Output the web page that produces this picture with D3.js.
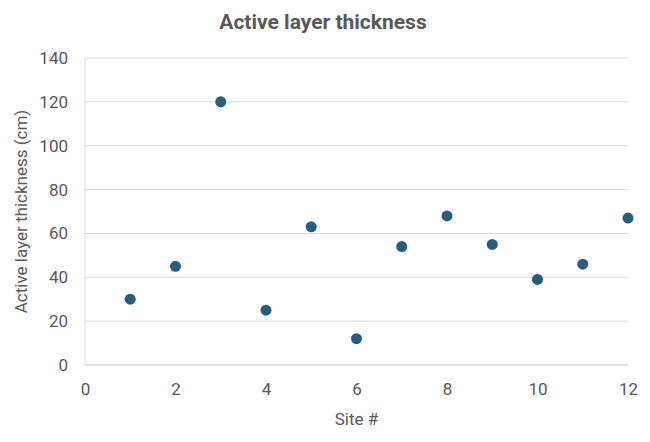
<!DOCTYPE html>
<html><head><meta charset="utf-8">
<script src="https://cdn.jsdelivr.net/npm/d3@7"></script>
<style>body{margin:0;background:#fff}svg{display:block}</style>
</head><body>
<script>
const sites = [1,2,3,4,5,6,7,8,9,10,11,12];
const thickness = [30,45,120,25,63,12,54,68,55,39,46,67];
const xTicks = [0,2,4,6,8,10,12];
const yTicks = [0,20,40,60,80,100,120,140];
const title = "Active layer thickness";
const xTitle = "Site #";
const yTitle = "Active layer thickness (cm)";

const W = 650, H = 442;
const m = {left:85, right:22, top:58, bottom:77};
const font = "'Roboto','Open Sans',sans-serif";
const svg = d3.select("body").append("svg").attr("width",W).attr("height",H);
const x = d3.scaleLinear().domain([0,12]).range([m.left, W-m.right]);
const y = d3.scaleLinear().domain([0,140]).range([H-m.bottom, m.top]);

svg.append("g").selectAll("line").data(yTicks.filter(d=>d>0)).join("line")
  .attr("x1",x(0)).attr("x2",x(12)).attr("y1",d=>y(d)).attr("y2",d=>y(d))
  .attr("stroke","#d9d9d9").attr("stroke-width",1);
svg.append("line").attr("x1",x(0)).attr("x2",x(12)).attr("y1",y(0)).attr("y2",y(0))
  .attr("stroke","#d9d9d9").attr("stroke-width",1.5);
svg.append("line").attr("x1",x(0)).attr("x2",x(0)).attr("y1",y(0)).attr("y2",y(140))
  .attr("stroke","#d9d9d9").attr("stroke-width",1);

const xa = svg.append("g").attr("transform",`translate(0,${y(0)})`)
  .call(d3.axisBottom(x).tickValues(xTicks).tickSize(0).tickPadding(18));
xa.select(".domain").remove();
xa.selectAll("text").attr("font-family",font).attr("font-size",17).attr("fill","#595959");

const ya = svg.append("g").attr("transform",`translate(${x(0)},0)`)
  .call(d3.axisLeft(y).tickValues(yTicks).tickSize(0).tickPadding(17));
ya.select(".domain").remove();
ya.selectAll("text").attr("font-family",font).attr("font-size",17).attr("fill","#595959");

svg.append("g").selectAll("circle").data(sites).join("circle")
  .attr("cx",(d)=>x(d)).attr("cy",(d,i)=>y(thickness[i])).attr("r",5.5)
  .attr("fill","#275e80");

svg.append("text").attr("x",323).attr("y",29).attr("text-anchor","middle")
  .attr("font-family",font).attr("font-weight","bold").attr("font-size",21).attr("fill","#595959").text(title);
svg.append("text").attr("x",x(6)).attr("y",425).attr("text-anchor","middle")
  .attr("font-family",font).attr("font-size",17).attr("fill","#595959").text(xTitle);
svg.append("text").attr("transform",`translate(27,${(y(0)+y(140))/2}) rotate(-90)`).attr("text-anchor","middle")
  .attr("font-family",font).attr("font-size",17).attr("fill","#595959").text(yTitle);
</script>
</body></html>
